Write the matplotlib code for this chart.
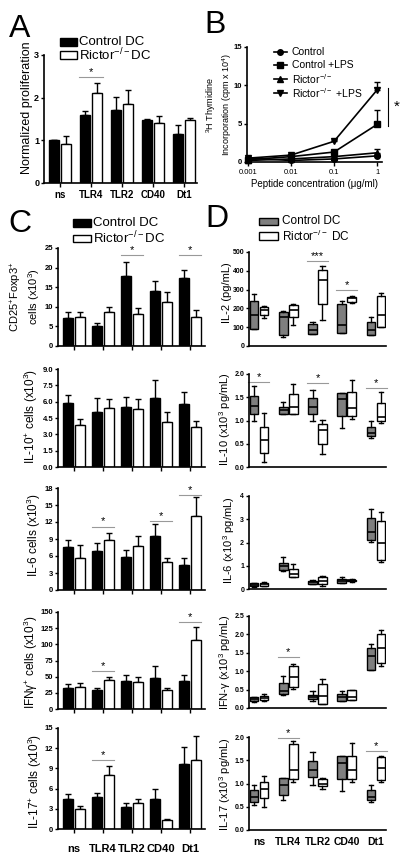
import numpy as np
import matplotlib
matplotlib.use('Agg')
import matplotlib.pyplot as plt
from matplotlib.patches import Rectangle
from matplotlib.lines import Line2D

plt.rcParams['font.family'] = ['Liberation Sans', 'DejaVu Sans']
plt.rcParams['mathtext.fontset'] = 'custom'
plt.rcParams['mathtext.rm'] = 'Liberation Sans'
plt.rcParams['mathtext.it'] = 'Liberation Sans:italic'
plt.rcParams['mathtext.bf'] = 'Liberation Sans:bold'

groups = ['ns', 'TLR4', 'TLR2', 'CD40', 'Dt1']

# A: normalized proliferation (mean, sem)
prolif_ctrl = [1.0, 1.6, 1.72, 1.48, 1.15]
prolif_ctrl_err = [0.0, 0.08, 0.3, 0.03, 0.22]
prolif_ric = [0.92, 2.12, 1.85, 1.4, 1.47]
prolif_ric_err = [0.18, 0.23, 0.33, 0.18, 0.06]

# B: 3H thymidine incorporation
conc = [0.001, 0.01, 0.1, 1]
thy_ctrl = [0.5, 0.2, 0.4, 0.8]
thy_ctrl_err = [0.1, 0.05, 0.1, 0.3]
thy_ctrl_lps = [0.3, 0.7, 1.3, 4.9]
thy_ctrl_lps_err = [0.1, 0.1, 0.3, 1.9]
thy_ric = [0.2, 0.4, 0.7, 1.2]
thy_ric_err = [0.05, 0.1, 0.1, 0.5]
thy_ric_lps = [0.5, 0.9, 2.7, 9.4]
thy_ric_lps_err = [0.1, 0.1, 0.2, 1.0]

# C: cell counts (mean, sem)
foxp3_ctrl = [7.2, 5.1, 17.9, 14.0, 17.3]
foxp3_ctrl_err = [1.6, 0.8, 3.6, 2.6, 2.0]
foxp3_ric = [7.3, 8.6, 8.2, 11.3, 7.5]
foxp3_ric_err = [1.5, 1.3, 1.4, 2.6, 1.6]
il10c_ctrl = [5.85, 5.05, 5.5, 6.35, 5.8]
il10c_ctrl_err = [0.75, 1.25, 0.95, 1.65, 1.1]
il10c_ric = [3.85, 5.45, 5.35, 4.15, 3.65]
il10c_ric_err = [0.6, 0.75, 0.9, 0.9, 0.55]
il6c_ctrl = [7.6, 6.8, 5.8, 9.6, 4.5]
il6c_ctrl_err = [1.3, 1.5, 1.2, 2.0, 1.2]
il6c_ric = [5.7, 8.8, 7.8, 5.0, 13.0]
il6c_ric_err = [2.3, 1.2, 1.8, 0.6, 3.4]
ifnc_ctrl = [33, 30, 44, 48, 44]
ifnc_ctrl_err = [6, 2, 8, 19, 8]
ifnc_ric = [34, 45, 42, 30, 106]
ifnc_ric_err = [6, 4, 8, 3, 21]
il17c_ctrl = [4.5, 4.8, 3.3, 4.4, 9.6]
il17c_ctrl_err = [0.7, 0.6, 0.6, 1.6, 2.6]
il17c_ric = [3.0, 8.0, 3.8, 1.4, 10.2]
il17c_ric_err = [0.4, 1.4, 0.6, 0.1, 3.6]

# D: cytokines, [min, q1, median, q3, max] per group
il2_ctrl = [[92, 92, 163, 238, 278], [48, 57, 154, 181, 185], [62, 62, 83, 119, 128],
            [71, 71, 110, 222, 238], [57, 57, 87, 128, 154]]
il2_ric = [[148, 163, 190, 210, 212], [110, 154, 190, 216, 225], [137, 225, 353, 402, 424],
           [229, 234, 255, 261, 266], [101, 101, 163, 264, 284]]
il10_ctrl = [[1.0, 1.15, 1.32, 1.53, 1.75], [1.13, 1.15, 1.23, 1.30, 1.39], [0.98, 1.13, 1.30, 1.48, 1.66],
             [0.84, 1.09, 1.46, 1.59, 1.59], [0.62, 0.66, 0.73, 0.85, 0.98]]
il10_ric = [[0.10, 0.30, 0.57, 0.87, 1.17], [1.15, 1.15, 1.29, 1.58, 1.78], [0.28, 0.49, 0.79, 0.93, 1.02],
            [1.04, 1.09, 1.26, 1.61, 1.87], [0.95, 1.0, 1.08, 1.37, 1.61]]
il6_ctrl = [[0.1, 0.12, 0.18, 0.24, 0.27], [0.79, 0.83, 1.0, 1.11, 1.36], [0.2, 0.22, 0.3, 0.36, 0.4],
            [0.24, 0.27, 0.33, 0.45, 0.53], [2.01, 2.11, 2.44, 3.04, 3.43]]
il6_ric = [[0.12, 0.15, 0.2, 0.26, 0.32], [0.51, 0.51, 0.66, 0.87, 1.07], [0.15, 0.2, 0.33, 0.5, 0.58],
           [0.32, 0.33, 0.37, 0.4, 0.42], [1.16, 1.26, 1.97, 2.93, 3.33]]
ifn_ctrl = [[0.17, 0.2, 0.25, 0.3, 0.3], [0.36, 0.39, 0.45, 0.68, 0.86], [0.2, 0.25, 0.3, 0.35, 0.45],
            [0.18, 0.2, 0.3, 0.38, 0.45], [1.02, 1.04, 1.4, 1.62, 1.73]]
ifn_ric = [[0.2, 0.22, 0.27, 0.32, 0.38], [0.52, 0.56, 0.84, 1.15, 1.19], [0.1, 0.1, 0.33, 0.65, 0.8],
           [0.22, 0.22, 0.3, 0.48, 0.48], [1.15, 1.22, 1.63, 2.02, 2.12]]
il17_ctrl = [[0.54, 0.61, 0.72, 0.85, 0.97], [0.65, 0.76, 0.96, 1.12, 1.12], [0.97, 1.14, 1.29, 1.49, 1.68],
             [0.83, 1.09, 1.45, 1.6, 1.6], [0.61, 0.65, 0.72, 0.85, 0.97]]
il17_ric = [[0.5, 0.68, 0.88, 1.03, 1.17], [1.04, 1.09, 1.28, 1.86, 1.92], [0.88, 0.94, 1.0, 1.1, 1.12],
            [1.04, 1.09, 1.28, 1.6, 1.88], [1.04, 1.08, 1.33, 1.57, 1.6]]

W, H = 406, 858
fig = plt.figure(figsize=(W / 100, H / 100), dpi=100)


def px_axes(l, t, r, b):
    return fig.add_axes([l / W, 1 - b / H, (r - l) / W, (b - t) / H])


def ftext(x, y, s, **kw):
    fig.text(x / W, 1 - y / H, s, **kw)


def frect(x0, y0, x1, y1, fc):
    fig.add_artist(Rectangle((x0 / W, 1 - y1 / H), (x1 - x0) / W, (y1 - y0) / H,
                             transform=fig.transFigure, facecolor=fc, edgecolor='black', lw=1))


def style(ax, yticks, fmt='%g', ysize=5.5):
    for s in ['top', 'right']:
        ax.spines[s].set_visible(False)
    ax.spines['left'].set_linewidth(1.2)
    ax.spines['bottom'].set_linewidth(1.2)
    ax.set_ylim(yticks[0], yticks[-1])
    ax.set_yticks(yticks, labels=[fmt % v for v in yticks], fontweight='bold', fontsize=ysize)
    ax.tick_params(axis='y', direction='out', length=2.5, width=1, pad=1)


def sig(ax, xc, y, s='*', half=0.38):
    ax.plot([xc - half, xc + half], [y, y], color='#999999', lw=0.8, clip_on=False)
    ax.text(xc, y, s, ha='center', va='bottom', fontsize=8, clip_on=False)


def bar_panel(ax, ctrl, ctrl_err, ric, ric_err, yticks, sigs, fmt='%g', xlim=(-0.55, 4.52)):
    x = np.arange(len(groups))
    ax.bar(x - 0.2, ctrl, 0.33, color='black', edgecolor='black', lw=1, zorder=2)
    ax.bar(x + 0.2, ric, 0.33, color='white', edgecolor='black', lw=1, zorder=2)
    ax.errorbar(x - 0.2, ctrl, yerr=[np.zeros(5), ctrl_err], fmt='none', ecolor='black',
                elinewidth=1, capsize=2, capthick=1, zorder=1)
    ax.errorbar(x + 0.2, ric, yerr=[np.zeros(5), ric_err], fmt='none', ecolor='black',
                elinewidth=1, capsize=2, capthick=1, zorder=1)
    style(ax, yticks, fmt)
    ax.set_xlim(*xlim)
    ax.set_xticks(x, labels=[])
    ax.tick_params(axis='x', direction='out', length=3, width=1)
    for g, yv in sigs:
        sig(ax, g, yv)


def box_panel(ax, ctrl, ric, yticks, sigs, fmt='%g'):
    x = np.arange(len(groups))
    for arr, off, fc in [(ctrl, -0.17, '#7f7f7f'), (ric, 0.17, 'white')]:
        stats = [dict(whislo=s[0], q1=s[1], med=s[2], q3=s[3], whishi=s[4], fliers=[]) for s in arr]
        ax.bxp(stats, positions=x + off, widths=0.3, showfliers=False, patch_artist=True,
               boxprops=dict(facecolor=fc, edgecolor='black', linewidth=1),
               medianprops=dict(color='black', linewidth=1.2),
               whiskerprops=dict(color='black', linewidth=1),
               capprops=dict(color='black', linewidth=1), manage_ticks=False)
    style(ax, yticks, fmt, ysize=5)
    ax.set_xlim(-0.34, 4.34)
    ax.set_xticks(x, labels=[])
    ax.tick_params(axis='x', length=0)
    for g, yv, s in sigs:
        sig(ax, g, yv, s, half=0.36)


# ---- A ----
axA = px_axes(44, 55, 197, 183)
bar_panel(axA, prolif_ctrl, prolif_ctrl_err, prolif_ric, prolif_ric_err, [0, 1, 2, 3],
          [(1, 2.48)], xlim=(-0.52, 4.42))
axA.set_yticks([0, 1, 2, 3], labels=['0', '1', '2', '3'], fontweight='bold', fontsize=6.5)
axA.set_xticks(np.arange(5), labels=groups, fontweight='bold', fontsize=7)
axA.tick_params(axis='x', pad=2)
ftext(27, 108, 'Normalized proliferation', rotation=90, ha='center', va='center', fontsize=9)
ftext(9, 37, 'A', fontsize=23, va='baseline')
frect(60, 38, 77, 46, 'black')
frect(60, 51, 77, 59, 'white')
ftext(79, 42, 'Control DC', fontsize=9.5, va='center')
ftext(79, 55, 'Rictor$^{-/-}$DC', fontsize=9.5, va='center')

# ---- B ----
axB = px_axes(247, 47, 382, 162)
series = [(thy_ctrl, thy_ctrl_err, 'o', 'Control'),
          (thy_ctrl_lps, thy_ctrl_lps_err, 's', 'Control +LPS'),
          (thy_ric, thy_ric_err, '^', 'Rictor$^{-/-}$'),
          (thy_ric_lps, thy_ric_lps_err, 'v', 'Rictor$^{-/-}$ +LPS')]
for vals, err, m, lab in series:
    axB.errorbar(conc, vals, yerr=[np.zeros(4), err], fmt='-' + m, color='black', ms=4,
                 lw=1.2, elinewidth=1, capsize=2, capthick=1, clip_on=False)
axB.set_xscale('log')
axB.set_xlim(0.00095, 1.3)
style(axB, [0, 5, 10, 15])
axB.set_xticks(conc, labels=['0.001', '0.01', '0.1', '1'], fontsize=5.5)
axB.tick_params(axis='x', which='major', length=3, width=1, pad=2)
axB.tick_params(axis='x', which='minor', length=2, width=0.8)
axB.plot([1.8, 1.8], [4.7, 9.7], color='black', lw=0.8, clip_on=False)
axB.text(2.9, 7.2, '*', fontsize=11, ha='center', va='center', clip_on=False)
axB.set_xlabel('Peptide concentration (μg/ml)', fontsize=7, labelpad=2)
ftext(219, 105, '$^{3}$H Thymidine\nIncorporation (cpm x 10$^{4}$)', rotation=90,
      ha='center', va='center', fontsize=6.5, linespacing=1.2)
ftext(204, 33, 'B', fontsize=23, va='baseline')
for i, (vals, err, m, lab) in enumerate(series):
    yy = [52, 65, 79, 93][i]
    fig.add_artist(Line2D([274 / W, 287 / W], [1 - yy / H, 1 - yy / H], transform=fig.transFigure,
                          color='black', lw=1.2))
    fig.add_artist(Line2D([280.5 / W], [1 - yy / H], transform=fig.transFigure,
                          color='black', marker=m, ms=4, lw=0))
    ftext(292, yy, lab, fontsize=7.5, va='center')

# ---- C ----
ftext(8, 232, 'C', fontsize=23, va='baseline')
frect(73, 219, 91, 227, 'black')
frect(73, 235, 91, 242, 'white')
ftext(93, 223, 'Control DC', fontsize=9.5, va='center')
ftext(93, 238, 'Rictor$^{-/-}$DC', fontsize=9.5, va='center')

c_rows = [
    ((248, 346), foxp3_ctrl, foxp3_ctrl_err, foxp3_ric, foxp3_ric_err, [0, 5, 10, 15, 20, 25], '%g',
     [(2, 23.2), (4, 23.2)]),
    ((369, 467), il10c_ctrl, il10c_ctrl_err, il10c_ric, il10c_ric_err, [0, 1.5, 3, 4.5, 6, 7.5, 9], '%.1f', []),
    ((488, 590), il6c_ctrl, il6c_ctrl_err, il6c_ric, il6c_ric_err, [0, 3, 6, 9, 12, 15, 18], '%g',
     [(1, 11.2), (3, 12.2), (4, 16.8)]),
    ((612, 709), ifnc_ctrl, ifnc_ctrl_err, ifnc_ric, ifnc_ric_err, [0, 25, 50, 75, 100, 125, 150], '%g',
     [(1, 58), (4, 135)]),
    ((728, 829), il17c_ctrl, il17c_ctrl_err, il17c_ric, il17c_ric_err, [0, 3, 6, 9, 12, 15], '%g',
     [(1, 10.2)]),
]
c_labels = [('CD25$^{+}$Foxp3$^{+}$\ncells (x10$^{3}$)', 25, 297, 8),
            ('IL-10$^{+}$ cells (x10$^{3}$)', 31, 416, 8.5),
            ('IL-6 cells (x10$^{3}$)', 34, 535, 8.5),
            ('IFNγ$^{+}$ cells (x10$^{3}$)', 31, 662, 8.5),
            ('IL-17$^{+}$ cells (x10$^{3}$)', 35, 781, 8.5)]
for i, ((t, b), c, ce, r, re, yt, fmt, sg) in enumerate(c_rows):
    ax = px_axes(58, t, 205, b)
    bar_panel(ax, c, ce, r, re, yt, sg, fmt)
    lab, lx, ly, fs = c_labels[i]
    ftext(lx, ly, lab, rotation=90, ha='center', va='center', fontsize=fs, linespacing=1.2)
    if i == 4:
        ax.set_xticks(np.arange(5), labels=groups, fontweight='bold', fontsize=8)
        ax.tick_params(axis='x', pad=8)

# ---- D ----
ftext(205, 227, 'D', fontsize=23, va='baseline')
frect(259, 218, 278, 225, '#7f7f7f')
frect(259, 232, 278, 240, 'white')
ftext(282, 221, 'Control DC', fontsize=8.5, va='center')
ftext(282, 236, 'Rictor$^{-/-}$ DC', fontsize=8.5, va='center')

d_rows = [
    ((252, 346), il2_ctrl, il2_ric, [0, 100, 200, 300, 400, 500], '%g', [(2, 452, '***'), (3, 296, '*')]),
    ((374, 467), il10_ctrl, il10_ric, [0, 0.5, 1.0, 1.5, 2.0], '%.1f',
     [(0, 1.82, '*'), (2, 1.8, '*'), (4, 1.7, '*')]),
    ((496, 589), il6_ctrl, il6_ric, [0, 1, 2, 3, 4], '%g', []),
    ((616, 708), ifn_ctrl, ifn_ric, [0, 0.5, 1.0, 1.5, 2.0, 2.5], '%.1f', [(1, 1.38, '*')]),
    ((737, 830), il17_ctrl, il17_ric, [0, 0.5, 1.0, 1.5, 2.0], '%.1f', [(1, 1.98, '*'), (4, 1.69, '*')]),
]
d_labels = [('IL-2 (pg/mL)', 227, 293),
            ('IL-10 (x10$^{3}$ pg/mL)', 225, 419),
            ('IL-6 (x10$^{3}$ pg/mL)', 229, 540),
            ('IFN-γ (x10$^{3}$ pg/mL)', 225, 662),
            ('IL-17 (x10$^{3}$ pg/mL)', 225, 784)]
for i, ((t, b), c, r, yt, fmt, sg) in enumerate(d_rows):
    ax = px_axes(249, t, 386, b)
    box_panel(ax, c, r, yt, sg, fmt)
    lab, lx, ly = d_labels[i]
    ftext(lx, ly, lab, rotation=90, ha='center', va='center', fontsize=8)
    if i == 4:
        ax.set_xticks(np.arange(5), labels=groups, fontweight='bold', fontsize=7.5)
        ax.tick_params(axis='x', pad=5)

fig.savefig('out.png', dpi=100)
